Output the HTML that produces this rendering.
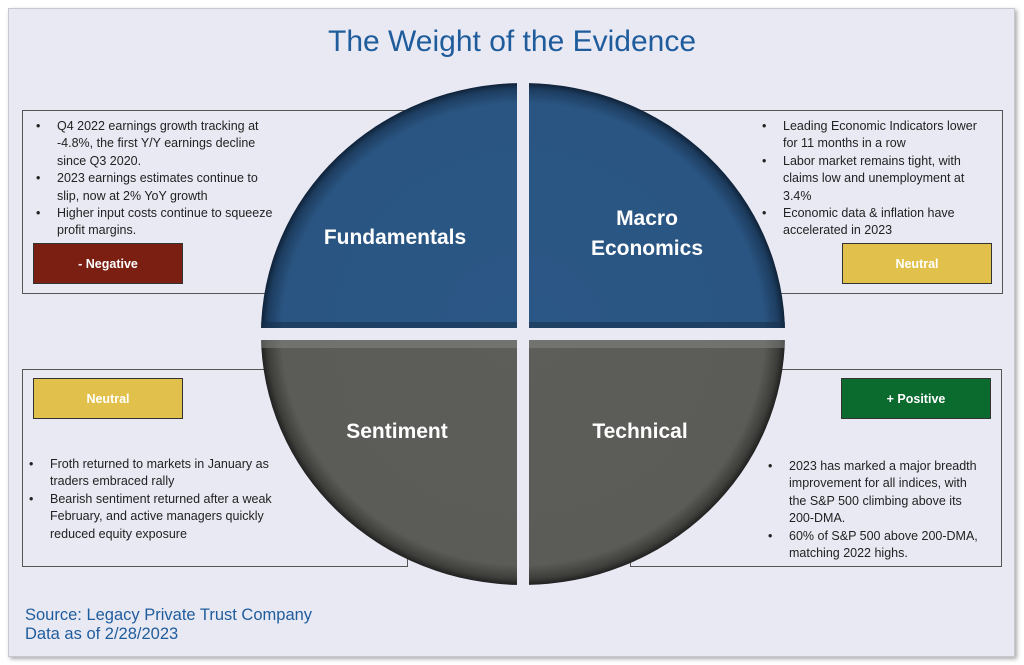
<!DOCTYPE html>
<html><head><meta charset="utf-8"><style>
*{margin:0;padding:0;box-sizing:border-box}
body{width:1024px;height:665px;background:#fff;position:relative;overflow:hidden;font-family:"Liberation Sans",sans-serif}
.frame{position:absolute;left:8px;top:8px;width:1007px;height:649px;background:#e9e9f4;border:1px solid #c8c8d0;box-shadow:2px 2px 4px #aaa}
.box{position:absolute;border:1.5px solid #555;background:#e9e9f4}
.txt{position:absolute;font-size:12.5px;line-height:17.4px;color:#222}
.txt ul{list-style:none}
.txt li{position:relative}
.txt li:before{content:"•";position:absolute;left:-21px}
.badge{position:absolute;width:150px;height:41px;border:1px solid #333;color:#fff;font-weight:bold;font-size:12.5px;text-align:center;line-height:40px}
.title{position:absolute;left:0;width:1024px;top:25px;text-align:center;font-size:30px;color:#1f5c9c}
.src{position:absolute;left:25px;top:606px;font-size:16.5px;line-height:19px;color:#1f5c9c}
svg{position:absolute;left:0;top:0}
</style></head><body>
<div class="frame"></div>
<div class="title">The Weight of the Evidence</div>
<div class="box" style="left:22px;top:110px;width:400px;height:184px"></div>
<div class="box" style="left:630px;top:110px;width:373px;height:184px"></div>
<div class="box" style="left:22px;top:369px;width:386px;height:198px"></div>
<div class="box" style="left:630px;top:369px;width:372px;height:198px"></div>

<div class="badge" style="left:33px;top:243px;background:#7b1f12">- Negative</div>
<div class="badge" style="left:842px;top:243px;background:#e2c04c">Neutral</div>
<div class="badge" style="left:33px;top:378px;background:#e2c04c">Neutral</div>
<div class="badge" style="left:841px;top:378px;background:#0b6a2e">+ Positive</div>

<svg width="1024" height="665">
<defs>
<radialGradient id="gb" gradientUnits="userSpaceOnUse" cx="523" cy="334" r="262" gradientTransform="translate(523 334) scale(1 0.958) translate(-523 -334)">
<stop offset="0" stop-color="#2b5786"/><stop offset="0.92" stop-color="#2a5582"/><stop offset="0.975" stop-color="#1d3d60"/><stop offset="1" stop-color="#0f2238"/></radialGradient>
<radialGradient id="gg" gradientUnits="userSpaceOnUse" cx="523" cy="334" r="262" gradientTransform="translate(523 334) scale(1 0.958) translate(-523 -334)">
<stop offset="0" stop-color="#5d5d59"/><stop offset="0.92" stop-color="#5b5b57"/><stop offset="0.975" stop-color="#3d3d3a"/><stop offset="1" stop-color="#202020"/></radialGradient>
<clipPath id="c1"><rect x="200" y="60" width="317" height="268"/></clipPath>
<clipPath id="c2"><rect x="529" y="60" width="300" height="268"/></clipPath>
<clipPath id="c3"><rect x="200" y="340" width="317" height="260"/></clipPath>
<clipPath id="c4"><rect x="529" y="340" width="300" height="260"/></clipPath>
</defs>
<ellipse cx="523" cy="334" rx="262" ry="251" fill="url(#gb)" clip-path="url(#c1)"/>
<ellipse cx="523" cy="334" rx="262" ry="251" fill="url(#gb)" clip-path="url(#c2)"/>
<ellipse cx="523" cy="334" rx="262" ry="251" fill="url(#gg)" clip-path="url(#c3)"/>
<ellipse cx="523" cy="334" rx="262" ry="251" fill="url(#gg)" clip-path="url(#c4)"/>
<rect x="261" y="322" width="256" height="6" fill="#17324f" opacity="0.6"/>
<rect x="529" y="322" width="256" height="6" fill="#17324f" opacity="0.6"/>
<rect x="261" y="340" width="256" height="8" fill="#888884" opacity="0.5"/>
<rect x="529" y="340" width="256" height="8" fill="#888884" opacity="0.5"/>
<g fill="#fff" font-family="Liberation Sans,sans-serif" font-weight="bold" font-size="21" text-anchor="middle">
<text x="395" y="244">Fundamentals</text>
<text x="647" y="225">Macro</text>
<text x="647" y="255">Economics</text>
<text x="397" y="438">Sentiment</text>
<text x="640" y="438">Technical</text>
</g>
</svg>

<div class="txt" style="left:57px;top:118px;width:222px"><ul>
<li>Q4 2022 earnings growth tracking at -4.8%, the first Y/Y earnings decline since Q3 2020.</li>
<li>2023 earnings estimates continue to slip, now at 2% YoY growth</li>
<li>Higher input costs continue to squeeze profit margins.</li></ul></div>
<div class="txt" style="left:783px;top:118px;width:208px"><ul>
<li>Leading Economic Indicators lower for 11 months in a row</li>
<li>Labor market remains tight, with claims low and unemployment at 3.4%</li>
<li>Economic data &amp; inflation have accelerated in 2023</li></ul></div>
<div class="txt" style="left:50px;top:456px;width:245px"><ul>
<li>Froth returned to markets in January as traders embraced rally</li>
<li>Bearish sentiment returned after a weak February, and active managers quickly reduced equity exposure</li></ul></div>
<div class="txt" style="left:789px;top:458px;width:215px;white-space:nowrap"><ul>
<li>2023 has marked a major breadth<br>improvement for all indices, with<br>the S&amp;P 500 climbing above its<br>200-DMA.</li>
<li>60% of S&amp;P 500 above 200-DMA,<br>matching 2022 highs.</li></ul></div>

<div class="src">Source: Legacy Private Trust Company<br>Data as of 2/28/2023</div>
</body></html>
